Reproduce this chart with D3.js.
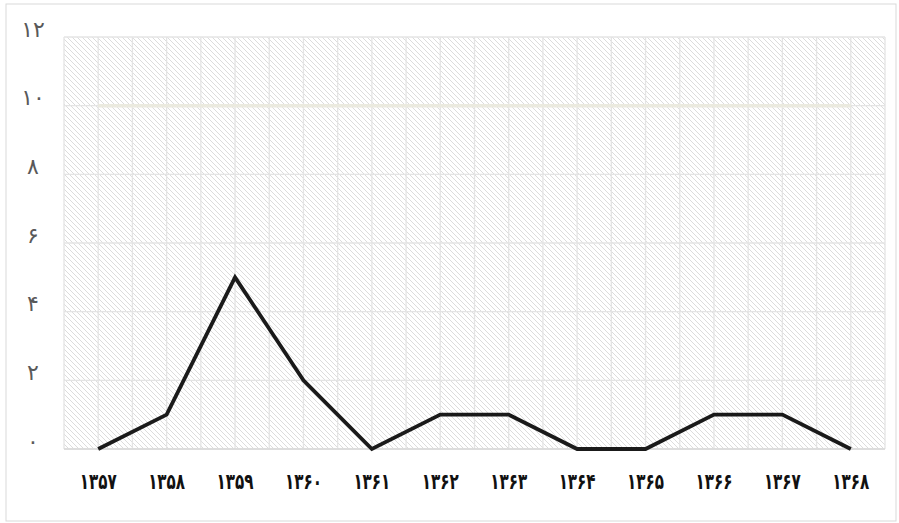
<!DOCTYPE html>
<html><head><meta charset="utf-8">
<script src="https://cdn.jsdelivr.net/npm/d3@7/dist/d3.min.js"></script>
<style>body{margin:0;background:#fff;}svg{display:block;}</style>
</head><body>
<svg id="c" width="899" height="523"></svg>
<script>
const categories = ["۱۳۵۷","۱۳۵۸","۱۳۵۹","۱۳۶۰","۱۳۶۱","۱۳۶۲","۱۳۶۳","۱۳۶۴","۱۳۶۵","۱۳۶۶","۱۳۶۷","۱۳۶۸"];
const values = [0,1,5,2,0,1,1,0,0,1,1,0];
const refValues = [10,10,10,10,10,10,10,10,10,10,10,10];
const yTicks = [0,2,4,6,8,10,12];
const yTickLabels = ["۰","۲","۴","۶","۸","۱۰","۱۲"];

const svg = d3.select("#c");
const L = 64, R = 885, T = 37, B = 449;

svg.append("rect").attr("x",6).attr("y",4).attr("width",890).attr("height",517)
  .attr("fill","#fff").attr("stroke","#d9d9d9").attr("stroke-width",1);

const defs = svg.append("defs");
const pat = defs.append("pattern").attr("id","hatch").attr("patternUnits","userSpaceOnUse")
  .attr("width",5).attr("height",5);
pat.append("rect").attr("width",5).attr("height",5).attr("fill","#fff");
pat.append("path").attr("d","M-1,-1 L6,6 M-1,4 L1,6 M4,-1 L6,1")
  .attr("stroke","#dcdcdc").attr("stroke-width",1);

const x = d3.scalePoint().domain(categories).range([L,R]).padding(0.5);
const xb = d3.scaleBand().domain(categories).range([L,R]);
const y = d3.scaleLinear().domain([0,12]).range([B,T]);

svg.append("rect").attr("x",L).attr("y",T).attr("width",R-L).attr("height",B-T).attr("fill","url(#hatch)");

const vx = [];
categories.forEach(c => { vx.push(xb(c)); vx.push(x(c)); });
vx.push(R);
svg.append("g").selectAll("line").data(vx).join("line")
  .attr("x1",d=>d).attr("x2",d=>d).attr("y1",T).attr("y2",B)
  .attr("stroke","#e4e4e4").attr("stroke-width",1.3);

svg.append("g").selectAll("line").data(yTicks).join("line")
  .attr("x1",L).attr("x2",R).attr("y1",d=>y(d)).attr("y2",d=>y(d))
  .attr("stroke","#e4e4e4").attr("stroke-width",1.3);

svg.append("line").attr("x1",L).attr("x2",R).attr("y1",B).attr("y2",B)
  .attr("stroke","#d9d9d9").attr("stroke-width",1.5);

const line = d3.line().x((d,i)=>x(categories[i])).y(d=>y(d));

svg.append("path").datum(refValues).attr("d",line).attr("fill","none")
  .attr("stroke","#ebeadf").attr("stroke-width",3.5);

svg.append("path").datum(values).attr("d",line).attr("fill","none")
  .attr("stroke","#1a1a1a").attr("stroke-width",3.8).attr("stroke-linejoin","miter");

svg.append("g").selectAll("text").data(yTicks).join("text")
  .attr("x",33).attr("y",d=>y(d)-8).attr("dy","0.35em")
  .attr("text-anchor","middle")
  .attr("font-family","DejaVu Sans, sans-serif").attr("font-size",22)
  .attr("letter-spacing",-1)
  .attr("fill","#595959")
  .text((d,i)=>yTickLabels[i]);

svg.append("g").selectAll("text").data(categories).join("text")
  .attr("x",d=>x(d)).attr("y",481).attr("dy","0.35em")
  .attr("text-anchor","middle")
  .attr("font-family","DejaVu Sans, sans-serif").attr("font-size",22).attr("font-weight","bold")
  .attr("textLength",37).attr("lengthAdjust","spacingAndGlyphs")
  .attr("fill","#111")
  .text(d=>d);
</script>
</body></html>
